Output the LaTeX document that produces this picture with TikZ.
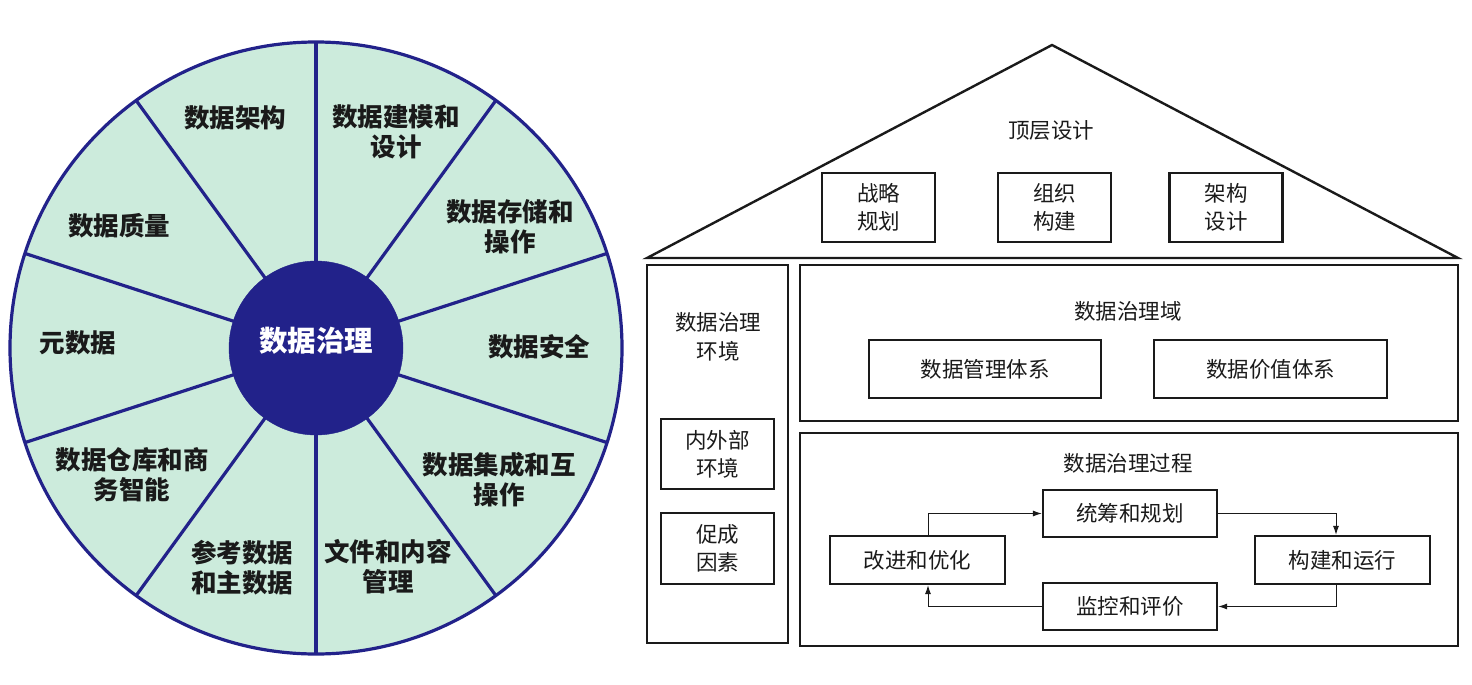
\documentclass[tikz,border=0pt]{standalone}
\usepackage{fontspec}
\newfontfamily\cjk{Noto Sans CJK SC}
\usetikzlibrary{arrows.meta,calc}
\definecolor{wheelfill}{HTML}{CCEBDC}
\definecolor{navy}{HTML}{22228A}
\definecolor{ink}{HTML}{1A1A1A}
\tikzset{
  wlabel/.style={font={\cjk\bfseries\fontsize{25.5}{30}\selectfont}, text=ink, align=center, inner sep=0pt},
  hubtext/.style={font={\cjk\bfseries\fontsize{28.5}{32}\selectfont}, text=white, inner sep=0pt},
  spoke/.style={draw=navy, line width=3.2pt},
  hlabel/.style={font={\cjk\fontsize{21.5}{28.5}\selectfont}, text=ink, align=center, inner sep=0pt},
  hbox/.style={draw=ink, line width=2.2pt, rectangle, inner sep=0pt, align=center, font={\cjk\fontsize{21.5}{28}\selectfont}, text=ink},
  frame/.style={draw=ink, line width=2.4pt, rectangle, inner sep=0pt},
  arr/.style={draw=ink, line width=1pt, -{Latex[length=9pt,width=6pt]}},
}
\begin{document}
\begin{tikzpicture}[x=1pt,y=-1pt]
\useasboundingbox (0,0) rectangle (1472,685);
% ---------- wheel ----------
\coordinate (c) at (316,348);
\draw[spoke, fill=wheelfill] (c) circle[radius=306];
\foreach \a in {18,54,90,126,162,198,234,270,306,342}{
  \draw[spoke] (c) -- ($(c)+(\a:306)$);
}
\node[circle, fill=navy, draw=navy, minimum size=174pt, inner sep=0pt] (hub) at (c) {};
\node[hubtext] (hubt) at (316,341) {数据治理};
\node[wlabel] (l1) at (235,118) {数据架构};
\node[wlabel] (l2) at (396,132) {数据建模和\\设计};
\node[wlabel] (l3) at (510,227) {数据存储和\\操作};
\node[wlabel] (l4) at (119,226) {数据质量};
\node[wlabel] (l5) at (78,343) {元数据};
\node[wlabel] (l6) at (539,347) {数据安全};
\node[wlabel] (l7) at (132,475) {数据仓库和商\\务智能};
\node[wlabel] (l8) at (499,480) {数据集成和互\\操作};
\node[wlabel] (l9) at (242,568) {参考数据\\和主数据};
\node[wlabel] (l10) at (388,567) {文件和内容\\管理};
% ---------- house ----------
\coordinate (roofL) at (647,258);
\coordinate (roofT) at (1052,45);
\coordinate (roofR) at (1458,258);
\draw[draw=ink, line width=2.4pt, line join=miter] (roofL) -- (roofT) -- (roofR) -- cycle;
\node[hlabel] (top) at (1051,130) {顶层设计};
\node[hbox, minimum width=113pt, minimum height=69pt] (r1) at (878.5,207.5) {战略\\规划};
\node[hbox, minimum width=113pt, minimum height=69pt] (r2) at (1054.5,207.5) {组织\\构建};
\node[hbox, minimum width=113pt, minimum height=69pt] (r3) at (1226,207.5) {架构\\设计};
% environment column
\node[frame, minimum width=141pt, minimum height=378pt] (env) at (717.5,454) {};
\node[hlabel] (envt) at (718,337) {数据治理\\环境};
\node[hbox, minimum width=113pt, minimum height=70pt] (e1) at (717.5,454) {内外部\\环境};
\node[hbox, minimum width=113pt, minimum height=71pt] (e2) at (717.5,548.5) {促成\\因素};
% domain
\node[frame, minimum width=658pt, minimum height=156pt] (dom) at (1129,343) {};
\node[hlabel] (domt) at (1128,311) {数据治理域};
\node[hbox, minimum width=232pt, minimum height=58pt] (d1) at (985,369) {数据管理体系};
\node[hbox, minimum width=233pt, minimum height=58pt] (d2) at (1270.5,369) {数据价值体系};
% process
\node[frame, minimum width=658pt, minimum height=213pt] (proc) at (1129,539.5) {};
\node[hlabel] (proct) at (1128,463) {数据治理过程};
\node[hbox, minimum width=174pt, minimum height=47pt] (p1) at (1130,513.5) {统筹和规划};
\node[hbox, minimum width=175pt, minimum height=48pt] (p2) at (1342.5,560) {构建和运行};
\node[hbox, minimum width=174pt, minimum height=47pt] (p3) at (1130,606.5) {监控和评价};
\node[hbox, minimum width=175pt, minimum height=48pt] (p4) at (917.5,560) {改进和优化};
\draw[arr] ([xshift=10.5pt]p4.north) |- (p1.west);
\draw[arr] (p1.east) -| ([xshift=-6.5pt]p2.north);
\draw[arr] ([xshift=-6.5pt]p2.south) |- (p3.east);
\draw[arr] (p3.west) -| ([xshift=10.5pt]p4.south);
\end{tikzpicture}
\end{document}
